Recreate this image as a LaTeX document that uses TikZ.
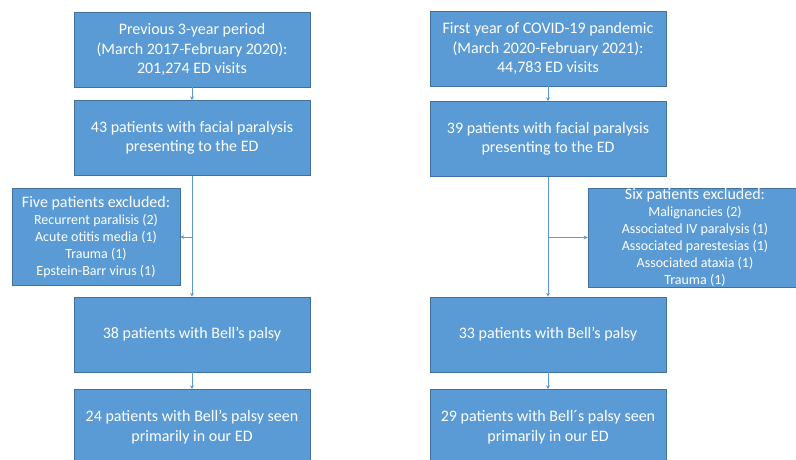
\documentclass[tikz,border=0pt]{standalone}
\usepackage{fontspec}
\setmainfont{Carlito}
\usetikzlibrary{arrows.meta}

\definecolor{boxblue}{HTML}{5B9BD5}
\definecolor{boxedge}{HTML}{41719C}
\definecolor{flowline}{HTML}{5B9BD5}

\tikzset{
  mainbox/.style={rectangle, fill=boxblue, draw=boxedge, line width=0.6pt, text=white,
    minimum width=236pt, minimum height=75pt, inner sep=0pt, align=center,
    font=\fontsize{16}{19.5}\selectfont},
  exclbox/.style={rectangle, fill=boxblue, draw=boxedge, line width=0.6pt, text=white,
    minimum height=97pt, inner sep=0pt, align=center,
    font=\fontsize{14}{17}\selectfont},
  flow/.style={draw=flowline, line width=0.9pt, -{Stealth[length=4pt,width=4pt]}}
}

\begin{document}
\begin{tikzpicture}[x=1pt,y=-1pt]

\clip (0,0) rectangle (796,459);
\fill[white] (0,0) rectangle (796,459);

% Left column: previous period
\node[mainbox] (prevA) at (192,49.5) {Previous 3-year period\\(March 2017-February 2020):\\201,274 ED visits};
\node[mainbox] (prevB) at (192,138) {43 patients with facial paralysis\\presenting to the ED};
\node[exclbox, minimum width=168pt] (prevX) at (96,237) {{\fontsize{16}{17}\selectfont Five patients excluded:}\\Recurrent paralisis (2)\\Acute otitis media (1)\\Trauma (1)\\Epstein-Barr virus (1)};
\node[mainbox] (prevC) at (192,334.5) {38 patients with Bell’s palsy};
\node[mainbox] (prevD) at (192,427) {24 patients with Bell’s palsy seen\\primarily in our ED};

% Right column: pandemic year
\node[mainbox] (covA) at (548,48.5) {First year of COVID-19 pandemic\\(March 2020-February 2021):\\44,783 ED visits};
\node[mainbox] (covB) at (548,139) {39 patients with facial paralysis\\presenting to the ED};
\node[exclbox, minimum width=214pt, minimum height=99pt] (covX) at (695,237.5) {{\fontsize{16}{17}\selectfont Six patients excluded:}\\Malignancies (2)\\Associated IV paralysis (1)\\Associated parestesias (1)\\Associated ataxia (1)\\Trauma (1)};
\node[mainbox] (covC) at (548,334.5) {33 patients with Bell’s palsy};
\node[mainbox] (covD) at (548,427) {29 patients with Bell´s palsy seen\\primarily in our ED};

% Connectors
\draw[flow] (prevA) -- (prevB);
\draw[flow] (prevB) -- (prevC);
\draw[flow] (prevC) -- (prevD);
\draw[flow] (prevB.south |- prevX.east) -- (prevX.east);

\draw[flow] (covA) -- (covB);
\draw[flow] (covB) -- (covC);
\draw[flow] (covC) -- (covD);
\draw[flow] (covB.south |- covX.west) -- (covX.west);

\end{tikzpicture}
\end{document}
